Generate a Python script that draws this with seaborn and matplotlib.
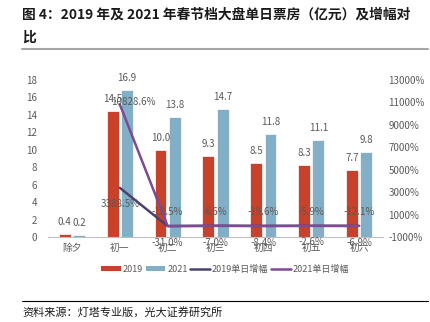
import matplotlib
matplotlib.use("Agg")
import matplotlib.pyplot as plt
from matplotlib.patches import Patch
from matplotlib.lines import Line2D
import seaborn as sns
import pandas as pd

# Spring Festival daily box office (100M CNY) and day-over-day growth
days = ["除夕", "初一", "初二", "初三", "初四", "初五", "初六"]
box_2019 = [0.4, 14.5, 10.0, 9.3, 8.5, 8.3, 7.7]
box_2021 = [0.2, 16.9, 13.8, 14.7, 11.8, 11.1, 9.8]
growth_days = ["初一", "初二", "初三", "初四", "初五", "初六"]
growth_2019 = [3388.5, -31.0, -7.0, -8.4, -2.6, -6.9]
growth_2021 = [10828.6, -18.5, 6.6, -19.6, -5.9, -12.1]
left_ticks = list(range(0, 19, 2))
right_ticks = list(range(-1000, 13001, 2000))

sns.set_theme(style="white")
plt.rcParams["font.family"] = ["Noto Sans CJK SC", "DejaVu Sans"]

C19 = "#C8412A"
C21 = "#82AFC5"
L19 = "#4B4170"
L21 = "#7D4A93"
GRAY = "#595959"
NARROW = ["Liberation Sans Narrow", "Noto Sans CJK SC", "DejaVu Sans"]

fig = plt.figure(figsize=(4.31, 3.22), dpi=100)
ax = fig.add_axes([48 / 431, 1 - 237 / 322, (383 - 48) / 431, (237 - 80) / 322])

bars = pd.DataFrame({
    "day": days * 2,
    "value": box_2019 + box_2021,
    "year": ["2019"] * len(days) + ["2021"] * len(days),
})
sns.barplot(data=bars, x="day", y="value", hue="year", order=days,
            hue_order=["2019", "2021"], palette=[C19, C21],
            width=0.6, gap=0.17, saturation=1, legend=False, ax=ax,
            edgecolor="white", linewidth=0.5)

for cont in ax.containers:
    ax.bar_label(cont, fmt="%.1f", padding=5, fontsize=7, color=GRAY,
                 family=NARROW)

ax.set_ylim(0, 18)
ax.set_xlim(-0.5, len(days) - 0.5)
ax.set_yticks(left_ticks)
ax.set_yticklabels([str(v) for v in left_ticks], family=NARROW)
ax.set_xlabel("")
ax.set_ylabel("")
for s in ("top", "left", "right"):
    ax.spines[s].set_visible(False)
ax.spines["bottom"].set_color("#BFBFBF")
ax.spines["bottom"].set_linewidth(0.8)
ax.tick_params(axis="y", length=0, pad=8, labelsize=7, labelcolor=GRAY)
ax.tick_params(axis="x", length=0, pad=4, labelsize=7, labelcolor=GRAY)
ax.set_xticks(range(len(days)))
ax.set_xticklabels(days)
ax.set_xticks([i + 0.5 for i in range(len(days))], minor=True)
ax.tick_params(axis="x", which="minor", length=3, direction="in",
               color="#BFBFBF", width=0.8)

ax2 = ax.twinx()
pos = {d: i for i, d in enumerate(days)}
lines = pd.DataFrame({
    "x": [pos[d] for d in growth_days] * 2,
    "growth": growth_2019 + growth_2021,
    "series": ["2019单日增幅"] * len(growth_days) + ["2021单日增幅"] * len(growth_days),
})
sns.lineplot(data=lines, x="x", y="growth", hue="series",
             hue_order=["2019单日增幅", "2021单日增幅"], palette=[L19, L21],
             linewidth=1.8, sort=False, legend=False, ax=ax2)
ax2.set_ylim(-1000, 13000)
ax2.set_xlim(-0.5, len(days) - 0.5)
ax2.set_yticks(right_ticks)
ax2.set_yticklabels([f"{v}%" for v in right_ticks], family=NARROW)
ax2.tick_params(axis="y", length=0, pad=4, labelsize=7, labelcolor=GRAY)
ax2.set_xlabel("")
ax2.set_ylabel("")
for s in ax2.spines.values():
    s.set_visible(False)

for i, (d, v) in enumerate(zip(growth_days, growth_2019)):
    ax2.annotate(f"{v:.1f}%", (pos[d], v), xytext=(0, -12), textcoords="offset points",
                 ha="center", va="center", fontsize=7, color=GRAY, family=NARROW)
for i, (d, v) in enumerate(zip(growth_days, growth_2021)):
    off = (10, 2) if i == 0 else (0, 10)
    ax2.annotate(f"{v:.1f}%", (pos[d], v), xytext=off, textcoords="offset points",
                 ha="center", va="center", fontsize=7, color=GRAY, family=NARROW)

handles = [
    Patch(facecolor=C19, edgecolor="none"),
    Patch(facecolor=C21, edgecolor="none"),
    Line2D([], [], color=L19, linewidth=1.8),
    Line2D([], [], color=L21, linewidth=1.8),
]
labels = ["2019", "2021", "2019单日增幅", "2021单日增幅"]
fig.legend(handles, labels, loc="center", bbox_to_anchor=(225 / 431, 1 - 269 / 322),
           ncol=4, frameon=False, fontsize=6.5, handlelength=2.2, handleheight=0.6,
           handletextpad=0.2, columnspacing=0.3, labelcolor=GRAY)

fig.text(22 / 431, 1 - 15 / 322, "图 4：2019 年及 2021 年春节档大盘单日票房（亿元）及增幅对",
         fontsize=9.9, fontweight="bold", va="center", ha="left", color="#1a1a1a")
fig.text(22 / 431, 1 - 38 / 322, "比", fontsize=9.9, fontweight="bold",
         va="center", ha="left", color="#1a1a1a")
fig.add_artist(Line2D([22 / 431, 428 / 431], [1 - 49 / 322] * 2, color="#A6A6A6",
                      linewidth=1.5, transform=fig.transFigure))
fig.add_artist(Line2D([22 / 431, 428 / 431], [1 - 301 / 322] * 2, color="#000000",
                      linewidth=0.8, transform=fig.transFigure))
fig.text(22 / 431, 1 - 312 / 322, "资料来源：灯塔专业版，光大证券研究所",
         fontsize=8, va="center", ha="left", color="#1a1a1a")

fig.savefig("out.png", dpi=100)
